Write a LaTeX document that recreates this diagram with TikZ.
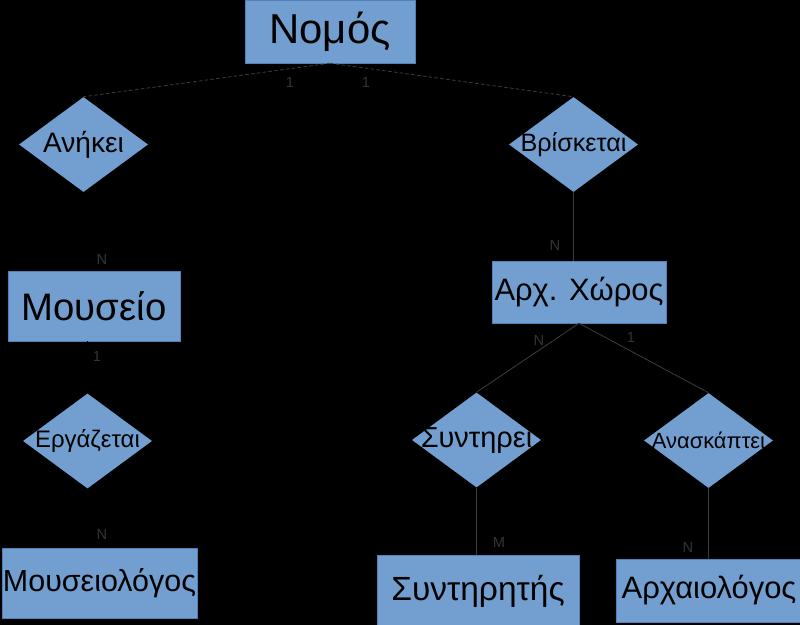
\documentclass[tikz,border=0pt]{standalone}
\usepackage{fontspec}
\setmainfont{Liberation Sans}
\usetikzlibrary{shapes.geometric, positioning}
\definecolor{entblue}{HTML}{729FCF}
\definecolor{entedge}{HTML}{4F81BD}
\definecolor{linegrey}{HTML}{3C3C3C}
\definecolor{cardgrey}{HTML}{343434}
\newcommand{\fs}[1]{\fontsize{#1}{#1}\selectfont}
\newcommand{\reltext}[1]{\makebox[0pt]{#1}}

\begin{document}
\begin{tikzpicture}[
  x=0.03cm, y=-0.03cm,
  entity/.style={rectangle, draw=entedge, fill=entblue, inner sep=0pt},
  rel/.style={diamond, fill=entblue, inner sep=0pt, minimum width=3.87cm, minimum height=2.85cm},
  card/.style={font=\fs{12.5pt}, text=cardgrey, inner sep=0pt},
  link/.style={draw=linegrey, line width=0.7pt},
  hidden/.style={draw=black, line width=0.7pt},
  optional/.style={draw=linegrey, line width=0.7pt, dash pattern=on 3pt off 2pt}
]
  \useasboundingbox (0,0) rectangle (800,625);
  \fill[black] (0,0) rectangle (800,625);

  % entities
  \node[entity, minimum width=5.1cm, minimum height=1.89cm, font=\fs{35.7pt}] (nomos) at (330,31.5) {Νομός};
  \node[entity, minimum width=5.16cm, minimum height=2.1cm, font=\fs{32.7pt}] (mouseio) at (94,306) {Μουσείο};
  \node[entity, minimum width=5.85cm, minimum height=2.1cm, font=\fs{26pt}] (mouseiologos) at (99.5,583) {Μουσειολόγος};
  \node[entity, minimum width=5.22cm, minimum height=1.86cm, font=\fs{26.4pt}] (archxoros) at (579,292) {Αρχ. Χώρος};
  \node[entity, minimum width=6.06cm, minimum height=2.16cm, font=\fs{28.6pt}] (syntiritis) at (478,591) {Συντηρητής};
  \node[entity, minimum width=5.58cm, minimum height=1.89cm, font=\fs{26.4pt}] (archaiologos) at (709,590.5) {Αρχαιολόγος};

  % relationships
  \node[rel, font=\fs{24pt}] (anikei) at (83.5,144.5) {\reltext{Ανήκει}};
  \node[rel, font=\fs{21.5pt}] (vriskete) at (573.5,144.5) {\reltext{Βρίσκεται}};
  \node[rel, font=\fs{20.4pt}] (ergazetai) at (87.5,441) {\reltext{Εργάζεται}};
  \node[rel, font=\fs{24.7pt}] (syntirei) at (476.5,440) {\reltext{Συντηρεί}};
  \node[rel, font=\fs{18.7pt}] (anaskaptei) at (708.5,440.5) {\reltext{Ανασκάπτει}};

  % connectors
  \draw[optional] (nomos.south) -- (anikei.north);
  \draw[optional] (nomos.south) -- (vriskete.north);
  \draw[hidden] (anikei.south) -- (anikei.south |- mouseio.north);
  \draw[hidden] (mouseio.south -| ergazetai.north) -- (ergazetai.north);
  \draw[hidden] (ergazetai.south) -- (ergazetai.south |- mouseiologos.north);
  \draw[link] (vriskete.south) -- (vriskete.south |- archxoros.north);
  \draw[link] (archxoros.south) -- (syntirei.north);
  \draw[link] (archxoros.south) -- (anaskaptei.north);
  \draw[link] (syntirei.south) -- (syntirei.south |- syntiritis.north);
  \draw[link] (anaskaptei.south) -- (anaskaptei.south |- archaiologos.north);

  % cardinalities
  \node[card] (c-nomos-l) at (290,82) {1};
  \node[card] (c-nomos-r) at (366,82) {1};
  \node[card] (c-mouseio-t) at (102,259) {N};
  \node[card] (c-mouseio-b) at (97,356) {1};
  \node[card] (c-mlogos) at (102,534) {N};
  \node[card] (c-xoros-t) at (555,245) {N};
  \node[card] (c-xoros-l) at (539,340) {N};
  \node[card] (c-xoros-r) at (631,337) {1};
  \node[card] (c-syntir) at (499,542) {M};
  \node[card] (c-archaio) at (688,547) {N};
\end{tikzpicture}
\end{document}
